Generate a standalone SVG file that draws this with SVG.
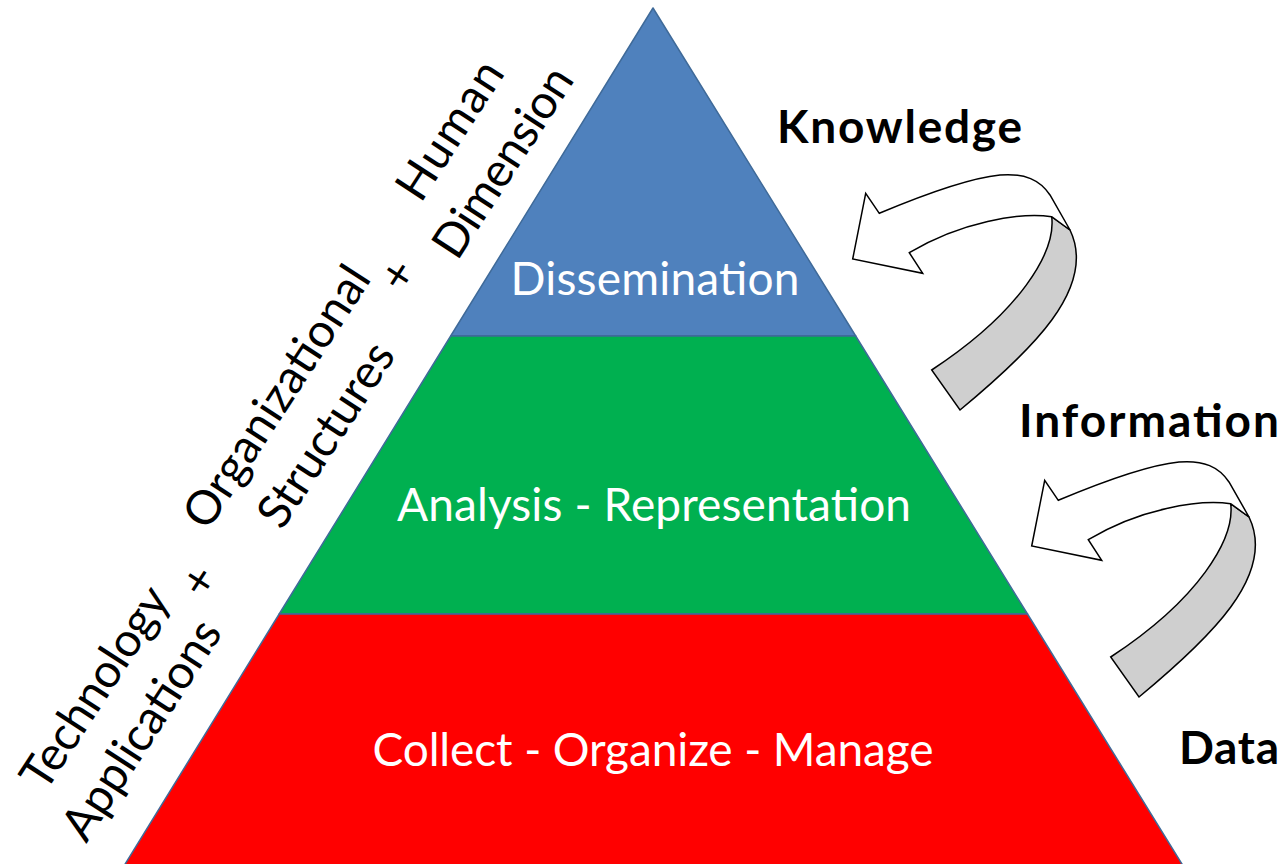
<svg xmlns="http://www.w3.org/2000/svg" width="1285" height="864" viewBox="0 0 1285 864">
<style>
.layer{stroke:#3F6A99;stroke-width:1.5;stroke-linejoin:round}
.inner{font-family:Lato,"Open Sans",sans-serif;font-size:46px;fill:#FFFFFF;text-anchor:middle}
.side{font-family:Lato,"Open Sans",sans-serif;font-size:47px;fill:#000000;text-anchor:middle}
.lbl{font-family:Lato,"Open Sans",sans-serif;font-size:46px;font-weight:bold;fill:#000000}
.white{fill:#FFFFFF;stroke:#000000;stroke-width:1.5;stroke-linejoin:miter}
.gray{fill:#CFCFCF;stroke:#000000;stroke-width:1.5;stroke-linejoin:miter}
</style>
<defs>
<g id="curl">
<path class="gray" d="M1051.7,216.7 C1056,252 1020,312 931.7,370 L960,410 C1030,352 1098,288 1070,230 Z"/>
<path class="white" d="M852.7,259 L865.7,193.3 L879.3,213.3 C930,192 970,178 1000,175 C1025,173 1040,180 1050,195 L1070,230 L1051.7,216.7 C1020,212 960,222 909.3,252.7 L922.7,273.3 Z"/>
</g>
</defs>
<rect width="1285" height="864" fill="#FFFFFF"/>
<g id="layer-dissemination">
<polygon class="layer" fill="#4F81BD" points="653,8 855.7,336 450.7,336"/>
<text class="inner" x="655" y="295" textLength="289">Dissemination</text>
</g>
<g id="layer-analysis">
<polygon class="layer" fill="#00B050" points="450.7,336 855.7,336 1027.5,614 279.2,614"/>
<text class="inner" x="654" y="521" textLength="514">Analysis - Representation</text>
</g>
<g id="layer-collect">
<polygon class="layer" fill="#FF0000" points="279.2,614 1027.5,614 1183.2,866 123.9,866"/>
<text class="inner" x="653" y="766" textLength="561">Collect - Organize - Manage</text>
</g>
<g id="side-labels" transform="rotate(-57)">
<text class="side" x="-525" y="470" textLength="231">Technology</text>
<text class="side" x="-535" y="532" textLength="252">Applications</text>
<text class="side" x="-379" y="499">+</text>
<text class="side" x="-182" y="464" textLength="302">Organizational</text>
<text class="side" x="-187" y="526" textLength="210">Structures</text>
<text class="side" x="-14" y="499">+</text>
<text class="side" x="136" y="464" textLength="156">Human</text>
<text class="side" x="138" y="526" textLength="217">Dimension</text>
</g>
<g id="label-knowledge"><text class="lbl" x="777" y="143" textLength="245">Knowledge</text></g>
<g id="label-information"><text class="lbl" x="1019" y="437" textLength="260">Information</text></g>
<g id="label-data"><text class="lbl" x="1179" y="764" textLength="100">Data</text></g>
<g id="connectors">
<use href="#curl"/>
<use href="#curl" transform="translate(179,287)"/>
</g>
</svg>
